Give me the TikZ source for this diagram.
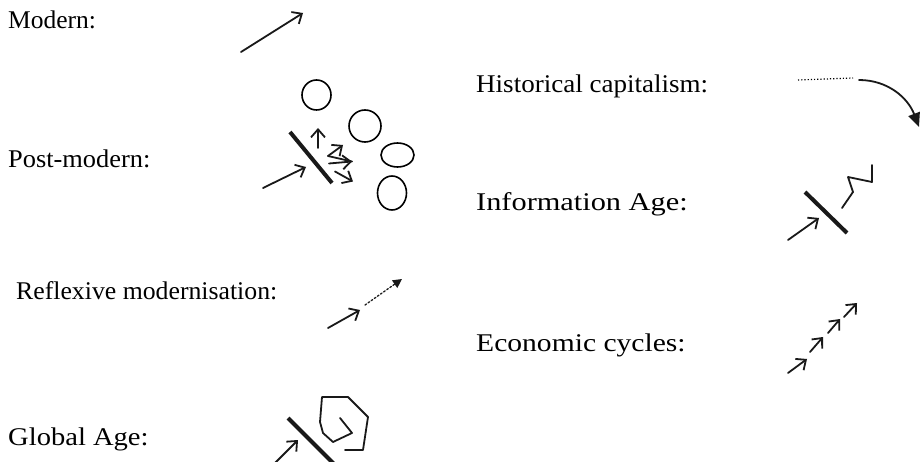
\documentclass[tikz,border=0pt]{standalone}
\usepackage{fontspec}
\setmainfont{Liberation Serif}
\usetikzlibrary{arrows.meta}
\begin{document}
\begin{tikzpicture}[x=1pt,y=-1pt,
  lbl/.style={anchor=base west,inner sep=0pt,font=\fontsize{25.5}{30}\selectfont},
  ln/.style={line width=1.8pt,line cap=round,line join=round,color=black!90},
  oa/.style={ln,-{Straight Barb[length=8pt,width=14pt,line width=1.8pt]}},
  bar/.style={line width=4pt,color=black!90},
  fa/.style={ln,-{Triangle[length=9pt,width=9pt]}}]
\useasboundingbox (0,0) rectangle (921,462);
% labels
\node[lbl] (modern) at (8,29) {Modern:};
\node[lbl] (post) at (8,168) {\scalebox{1.035}[1]{Post-modern:}};
\node[lbl] (refl) at (16,300) {\scalebox{1.01}[1]{Reflexive modernisation:}};
\node[lbl] (glob) at (8,445) {\scalebox{1.12}[1]{Global Age:}};
\node[lbl] (hist) at (476,93) {\scalebox{1.06}[1]{Historical capitalism:}};
\node[lbl] (info) at (476,211) {\scalebox{1.19}[1]{Information Age:}};
\node[lbl] (econ) at (476,351) {\scalebox{1.16}[1]{Economic cycles:}};
% Modern
\draw[oa] (241,52) -- (303,13);
% Post-modern
\draw[line width=1.6pt] (316.5,95) ellipse [x radius=14.5, y radius=15];
\draw[line width=1.6pt] (365,126) ellipse [x radius=16, y radius=16];
\draw[line width=1.6pt] (397.5,155) ellipse [x radius=16.5, y radius=12];
\draw[line width=1.6pt] (392,193) ellipse [x radius=14.5, y radius=17];
\draw[bar] (290,132) -- (332,183);
\draw[oa] (263,188) -- (306,167);
\draw[oa] (318,148) -- (318,128);
\draw[oa] (328,156) -- (343,145);
\draw[ln] (328,156) -- (352,161.5);
\draw[oa] (329,163.5) -- (352,161.5);
\draw[oa] (335,171.5) -- (353,181.5);
% Reflexive
\draw[oa] (328,328) -- (360,310);
\draw[fa,dotted,line width=1.3pt] (365,305) -- (402,279);
% Global Age
\draw[bar] (288,418) -- (336,466);
\draw[oa] (272,466) -- (298,440);
\draw[ln] (345,450) -- (363,450) -- (368,417) -- (348,397) -- (322,397) -- (320,422) -- (323,433) -- (333,442) -- (352,433) -- (340,418);
% Historical capitalism
\draw[dotted,line width=1.2pt] (798,80) -- (853,78);
\draw[ln,-{Triangle[length=14pt,width=12pt]}] (859,80) .. controls (888,80) and (908,98) .. (919,127);
% Information Age
\draw[bar] (805,192) -- (847,233);
\draw[oa] (788,240) -- (819,218);
\draw[ln] (842,208) -- (853,192) -- (848,177) -- (872,182) -- (872,165);
% Economic cycles
\draw[oa] (788,373) -- (807,359);
\draw[oa] (810,352) -- (823,337);
\draw[oa] (828,333) -- (840,319);
\draw[oa] (844,317) -- (857,303);
\end{tikzpicture}
\end{document}
